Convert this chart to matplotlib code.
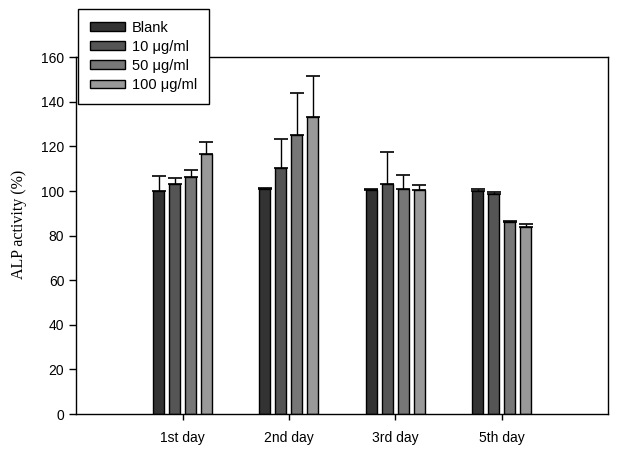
import matplotlib
matplotlib.use('Agg')
import matplotlib.pyplot as plt
import numpy as np

# 数据
days = ['1st day', '2nd day', '3rd day', '5th day']
labels = ['Blank', '10 μg/ml', '50 μg/ml', '100 μg/ml']
blank = [100.1, 100.8, 100.5, 100.1]
c10 = [103.2, 110.1, 103.0, 98.6]
c50 = [106.5, 124.9, 100.8, 86.2]
c100 = [116.7, 133.0, 100.5, 83.7]
blank_err = [6.7, 0.4, 0.4, 0.9]
c10_err = [2.7, 13.2, 14.4, 0.8]
c50_err = [3.0, 19.1, 6.5, 0.3]
c100_err = [5.1, 18.6, 2.0, 1.3]

series = [blank, c10, c50, c100]
errors = [blank_err, c10_err, c50_err, c100_err]
colors = ['#333333', '#555555', '#777777', '#999999']

plt.rcParams['font.family'] = ['Liberation Sans', 'DejaVu Sans']

fig = plt.figure(figsize=(6.4, 4.54), dpi=100)
ax = fig.add_axes([0.119, 0.088, 0.831, 0.786])

x = np.arange(1, len(days) + 1)
width = 0.103
offsets = [-0.225, -0.075, 0.075, 0.225]
for vals, errs, col, lab, off in zip(series, errors, colors, labels, offsets):
    ax.bar(x + off, vals, width, color=col, edgecolor='black', linewidth=1.0, label=lab, zorder=2)
    ax.errorbar(x + off, vals, yerr=[np.zeros(len(errs)), errs], fmt='none',
                ecolor='black', elinewidth=1.0, capsize=5, capthick=1.2, zorder=1)

ax.set_xlim(0, 5)
ax.set_ylim(0, 160)
ax.set_xticks(x)
ax.set_xticklabels(days, fontsize=10)
ax.set_yticks(range(0, 161, 20))
ax.tick_params(axis='y', labelsize=10, direction='out', length=5, width=1)
ax.tick_params(axis='x', direction='out', length=4, width=1, pad=8)
ax.set_ylabel('ALP activity (%)', family='Liberation Serif', fontsize=11.5)
ax.yaxis.set_label_coords(-0.092, 0.532)
for s in ax.spines.values():
    s.set_linewidth(1.0)

fig.legend(loc='upper left', bbox_to_anchor=(0.122, 0.98), borderaxespad=0,
           fontsize=10.5, fancybox=False, edgecolor='black', framealpha=1,
           handlelength=2.4, handleheight=0.55, labelspacing=0.35,
           borderpad=0.8, handletextpad=0.5)

plt.savefig('out.png')
